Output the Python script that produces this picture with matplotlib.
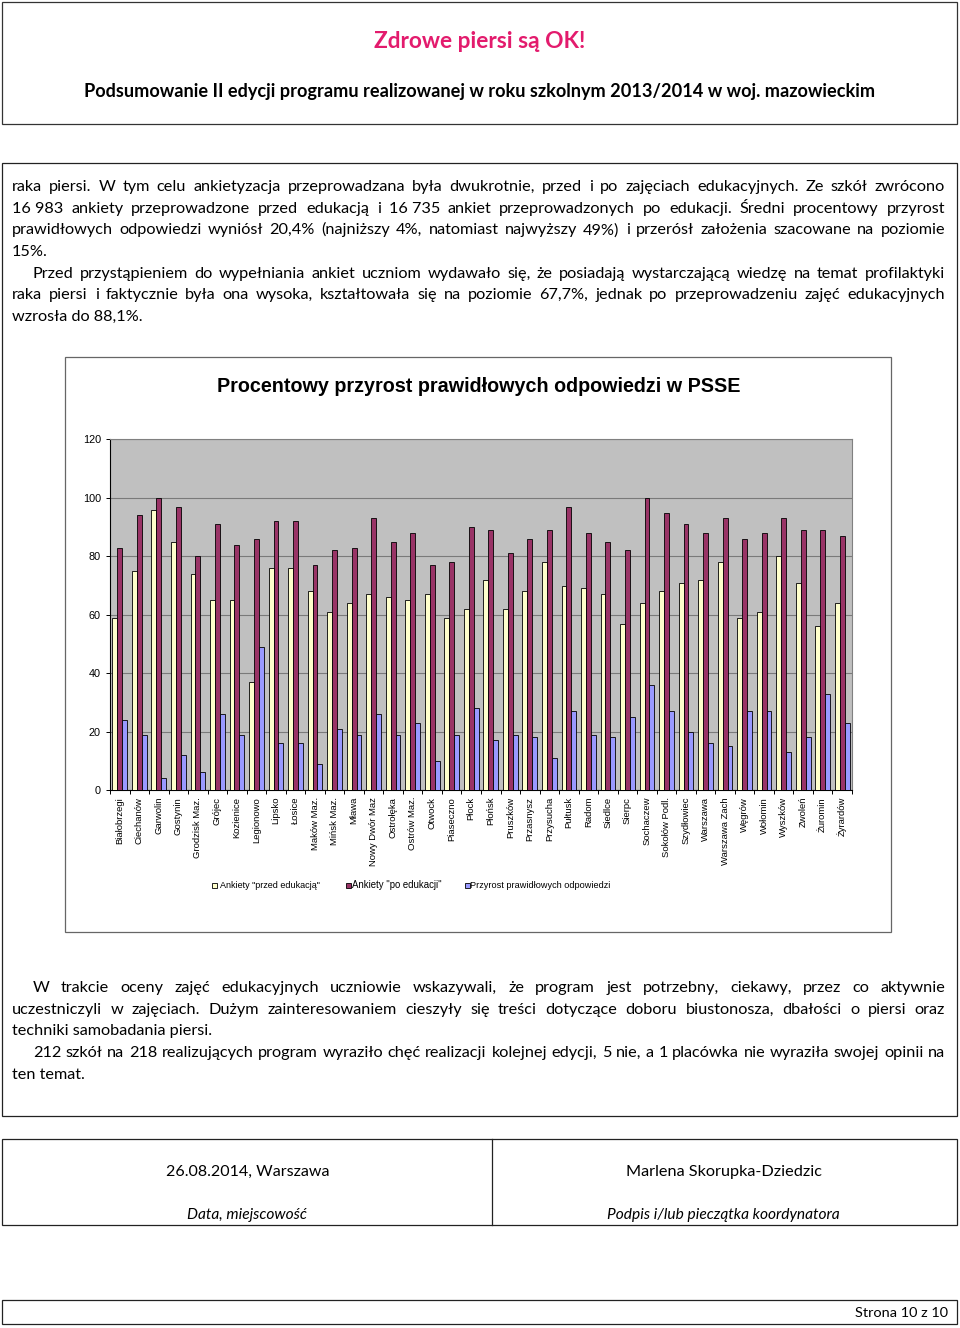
import matplotlib
matplotlib.use('Agg')
import matplotlib.pyplot as plt
from matplotlib.patches import Rectangle
import numpy as np

# ---------------- data ----------------
categories = ['Białobrzegi', 'Ciechanów', 'Garwolin', 'Gostynin', 'Grodzisk Maz.', 'Grójec',
              'Kozienice', 'Legionowo', 'Lipsko', 'Łosice', 'Maków Maz.', 'Mińsk Maz.',
              'Mława', 'Nowy Dwór Maz', 'Ostrołęka', 'Ostrów Maz.', 'Otwock', 'Piaseczno',
              'Płock', 'Płońsk', 'Pruszków', 'Przasnysz', 'Przysucha', 'Pułtusk', 'Radom',
              'Siedlce', 'Sierpc', 'Sochaczew', 'Sokołów Podl.', 'Szydłowiec', 'Warszawa',
              'Warszawa Zach', 'Węgrów', 'Wołomin', 'Wyszków', 'Zwoleń', 'Żuromin', 'Żyrardów']
before = [59, 75, 96, 85, 74, 65, 65, 37, 76, 76, 68, 61,
          64, 67, 66, 65, 67, 59, 62, 72, 62, 68, 78, 70, 69,
          67, 57, 64, 68, 71, 72, 78, 59, 61, 80, 71, 56, 64]
after = [83, 94, 100, 97, 80, 91, 84, 86, 92, 92, 77, 82,
         83, 93, 85, 88, 77, 78, 90, 89, 81, 86, 89, 97, 88,
         85, 82, 100, 95, 91, 88, 93, 86, 88, 93, 89, 89, 87]
gain = [24, 19, 4, 12, 6, 26, 19, 49, 16, 16, 9, 21,
        19, 26, 19, 23, 10, 19, 28, 17, 19, 18, 11, 27, 19,
        18, 25, 36, 27, 20, 16, 15, 27, 27, 13, 18, 33, 23]
yticks = [0, 20, 40, 60, 80, 100, 120]
legend_labels = ['Ankiety "przed edukacją"', 'Ankiety "po edukacji"',
                 'Przyrost prawidłowych odpowiedzi']
chart_title = 'Procentowy przyrost prawidłowych odpowiedzi w PSSE'

para1 = [
    ('raka piersi. W tym celu ankietyzacja przeprowadzana była dwukrotnie, przed i po zajęciach edukacyjnych. Ze szkół zwrócono', True, False),
    ('16~983 ankiety przeprowadzone przed edukacją i 16~735 ankiet przeprowadzonych po edukacji. Średni procentowy przyrost', True, False),
    ('prawidłowych odpowiedzi wyniósł 20,4% (najniższy 4%, natomiast najwyższy 49%) i przerósł założenia szacowane na poziomie', True, False),
    ('15%.', False, False),
    ('Przed przystąpieniem do wypełniania ankiet uczniom wydawało się, że posiadają wystarczającą wiedzę na temat profilaktyki', True, True),
    ('raka piersi i faktycznie była ona wysoka, kształtowała się na poziomie 67,7%, jednak po przeprowadzeniu zajęć edukacyjnych', True, False),
    ('wzrosła do 88,1%.', False, False),
]
para2 = [
    ('W trakcie oceny zajęć edukacyjnych uczniowie wskazywali, że program jest potrzebny, ciekawy, przez co aktywnie', True, True),
    ('uczestniczyli w zajęciach. Dużym zainteresowaniem cieszyły się treści dotyczące doboru biustonosza, dbałości o piersi oraz', True, False),
    ('techniki samobadania piersi.', False, False),
    ('212 szkół na 218 realizujących program wyraziło chęć realizacji kolejnej edycji, 5 nie, a 1 placówka nie wyraziła swojej opinii na', True, True),
    ('ten temat.', False, False),
]

# ---------------- page ----------------
W, H = 960, 1328
fig = plt.figure(figsize=(9.6, 13.28), dpi=100)
page = fig.add_axes([0, 0, 1, 1])
page.set_xlim(0, W)
page.set_ylim(H, 0)
page.axis('off')
renderer = fig.canvas.get_renderer()


def width_of(t):
    return t.get_window_extent(renderer).width


def fit_text(x, y, s, target_w, **kw):
    t = page.text(x, y, s, fontsize=10, **kw)
    w = width_of(t)
    t.set_fontsize(10 * target_w / w)
    return t


BODY = dict(family='Lato', fontsize=11.7, color='black')


def write_lines(lines, y0, dy, x0=12, x1=945, indent=21):
    for i, (s, just, ind) in enumerate(lines):
        y = y0 + i * dy
        xs = x0 + (indent if ind else 0)
        if not just:
            page.text(xs, y, s.replace('~', ' '), va='baseline', ha='left', **BODY)
            continue
        words = s.split(' ')
        ts = [page.text(0, y, w.replace('~', ' '), va='baseline', ha='left', **BODY) for w in words]
        ws = [width_of(t) for t in ts]
        gap = (x1 - xs - sum(ws)) / (len(ws) - 1)
        x = xs
        for t, w in zip(ts, ws):
            t.set_x(x)
            x += w + gap


# boxes
page.add_patch(Rectangle((2, 2), 955, 122, fill=False, edgecolor='#333333', lw=0.9))
page.add_patch(Rectangle((2, 163), 955, 953, fill=False, edgecolor='#222222', lw=0.9))
page.add_patch(Rectangle((65, 357), 826, 575, fill=False, edgecolor='#666666', lw=0.9))
page.add_patch(Rectangle((2, 1139), 955, 86, fill=False, edgecolor='#222222', lw=0.9))
page.plot([492, 492], [1139, 1225], color='#222222', lw=0.9)
page.add_patch(Rectangle((2, 1300), 955, 24, fill=False, edgecolor='#222222', lw=0.9))

# header
fit_text(480, 42, 'Zdrowe piersi są OK!', 212, ha='center', va='center',
         family='Lato', fontweight='bold', color='#E31B6D')
fit_text(480, 91, 'Podsumowanie II edycji programu realizowanej w roku szkolnym 2013/2014 w woj. mazowieckim',
         792, ha='center', va='center', family='Lato', fontweight='bold', color='black')

# paragraphs
write_lines(para1, 191, 21.67)
write_lines(para2, 992, 21.75)

# footer
fit_text(247.5, 1172, '26.08.2014, Warszawa', 163, ha='center', va='center', family='Lato')
fit_text(247, 1215, 'Data, miejscowość', 120, ha='center', va='center', family='Lato', style='italic')
fit_text(724, 1172, 'Marlena Skorupka-Dziedzic', 196, ha='center', va='center', family='Lato')
fit_text(723.5, 1215, 'Podpis i/lub pieczątka koordynatora', 233, ha='center', va='center',
         family='Lato', style='italic')
fit_text(948, 1313, 'Strona 10 z 10', 93, ha='right', va='center', family='Lato')

# chart title
fit_text(478.5, 387, chart_title, 523, ha='center', va='center',
         family='Liberation Sans', fontweight='bold')

# ---------------- chart ----------------
L, R, T, B = 110, 852, 439.5, 790
ax = fig.add_axes([L / W, 1 - B / H, (R - L) / W, (B - T) / H])
n = len(categories)
x = np.arange(n)
bw = 0.25
colors = ['#FFFFCC', '#993366', '#9999FF']
for k, (vals, c) in enumerate(zip([before, after, gain], colors)):
    ax.bar(x + (k - 1) * bw, vals, bw, color=c, edgecolor='black', linewidth=0.6, zorder=3)

ax.set_xlim(-0.5, n - 0.5)
ax.set_ylim(0, 120)
ax.set_facecolor('#C0C0C0')
ax.set_yticks(yticks)
ax.set_yticklabels([str(v) for v in yticks], family='Liberation Sans', fontsize=7.8)
ax.yaxis.grid(True, color='#7a7a7a', linewidth=0.8)
ax.set_axisbelow(True)
for side in ['left', 'bottom']:
    ax.spines[side].set_color('black')
    ax.spines[side].set_linewidth(0.8)
for side in ['top', 'right']:
    ax.spines[side].set_color('#808080')
    ax.spines[side].set_linewidth(0.8)
ax.set_xticks(x)
ax.set_xticklabels(categories, rotation=90, family='Liberation Sans', fontsize=6.8, va='top', ha='center')
ax.set_xticks(np.arange(-0.5, n), minor=True)
ax.tick_params(axis='x', which='major', length=0, pad=5)
ax.tick_params(axis='x', which='minor', length=3, width=0.7, direction='out')
ax.tick_params(axis='y', length=3, width=0.7, pad=3.5)

# legend (manual)
leg_sq = [211.5, 345.5, 464.5]
leg_tx = [219.5, 351.5, 470.5]
leg_w = [100, 90, 140]
for sx, tx, lw_, lab, c in zip(leg_sq, leg_tx, leg_w, legend_labels, colors):
    page.add_patch(Rectangle((sx, 882.5), 5, 5, facecolor=c, edgecolor='black', lw=0.6))
    fit_text(tx, 885, lab, lw_, ha='left', va='center', family='Liberation Sans')

fig.savefig('out.png', dpi=100)
